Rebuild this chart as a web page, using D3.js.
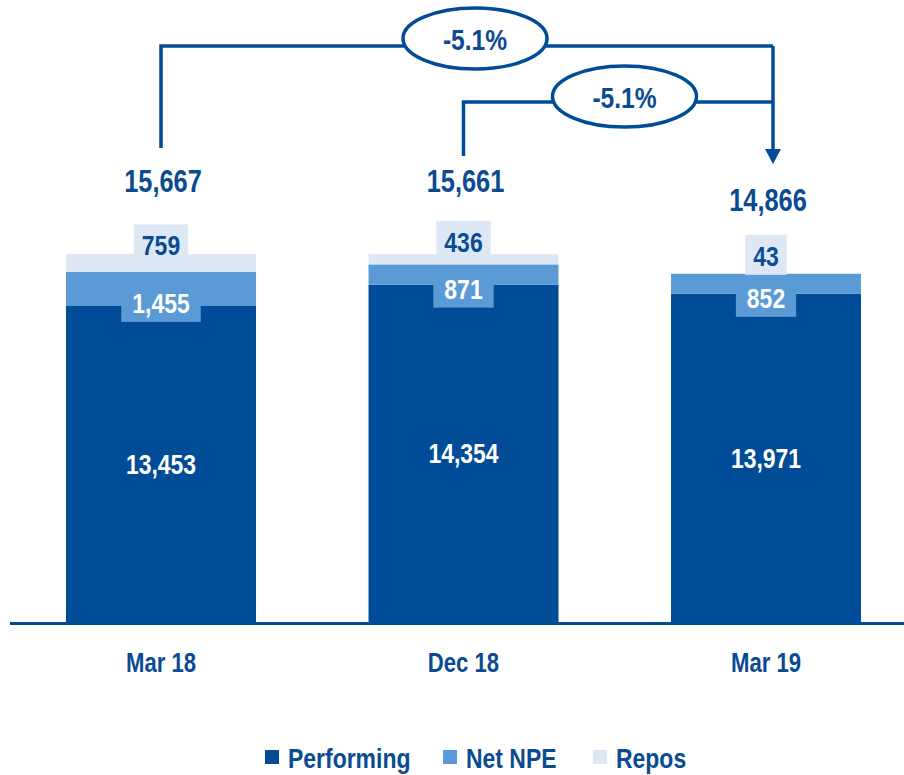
<!DOCTYPE html>
<html>
<head>
<meta charset="utf-8">
<script src="https://cdn.jsdelivr.net/npm/d3@7"></script>
<style>
  body { margin: 0; background: #fff; }
  svg { display: block; font-family: "Liberation Sans", Arial, sans-serif; font-weight: bold; }
</style>
</head>
<body>
<div id="chart"></div>
<script>
const categories = ["Mar 18", "Dec 18", "Mar 19"];
const performing = [13453, 14354, 13971];
const netNpe = [1455, 871, 852];
const repos = [759, 436, 43];
const totals = [15667, 15661, 14866];
const changeLabels = ["-5.1%", "-5.1%"];
const seriesNames = ["Performing", "Net NPE", "Repos"];

const width = 904, height = 775;
const dark = "#004C97", mid = "#5B9BD5", light = "#DEE8F4", textBlue = "#0A4B93";
const squeeze = 0.82; // narrow-font look

const rows = categories.map((c, i) => ({
  cat: c, Performing: performing[i], "Net NPE": netNpe[i], Repos: repos[i], total: totals[i]
}));

const svg = d3.select("#chart").append("svg")
  .attr("width", width)
  .attr("height", height);

// condensed text helper
function ntext(parent, tx, ty, str, size, fill, anchor) {
  return parent.append("text")
    .attr("transform", `translate(${tx},${ty}) scale(${squeeze},1)`)
    .attr("text-anchor", anchor || "middle")
    .attr("font-size", size + "px")
    .attr("fill", fill)
    .text(str);
}

const x = d3.scaleBand()
  .domain(categories)
  .range([9.75, 917.25])
  .paddingInner(0.372)
  .paddingOuter(0.186);

const y = d3.scaleLinear()
  .domain([0, 15667])
  .range([622, 254]);

const color = d3.scaleOrdinal().domain(seriesNames).range([dark, mid, light]);

const stacked = d3.stack().keys(seriesNames)(rows);

// Stacked bars
svg.append("g").selectAll("g")
  .data(stacked)
  .join("g")
  .attr("fill", d => color(d.key))
  .selectAll("rect")
  .data(d => d)
  .join("rect")
  .attr("x", d => x(d.data.cat))
  .attr("width", x.bandwidth())
  .attr("y", d => y(d[1]))
  .attr("height", d => y(d[0]) - y(d[1]));

// Baseline
svg.append("line")
  .attr("x1", 10).attr("x2", width)
  .attr("y1", y(0) + 1.5).attr("y2", y(0) + 1.5)
  .attr("stroke", dark)
  .attr("stroke-width", 3);

const cx = c => x(c) + x.bandwidth() / 2;
const fmt = d3.format(",");

// Performing labels (white, centered in segment)
const perfG = svg.append("g");
stacked[0].forEach(d => {
  ntext(perfG, cx(d.data.cat), (y(d[0]) + y(d[1])) / 2 + 10, fmt(d[1] - d[0]), 28, "#fff");
});

// Boxed labels for Net NPE and Repos
function boxedLabels(layer, offset, pad, boxColor, txtColor) {
  const g = svg.append("g");
  layer.forEach(d => {
    const bx = cx(d.data.cat);
    const base = (y(d[0]) + y(d[1])) / 2 + offset;
    const rect = g.append("rect").attr("fill", boxColor);
    const t = ntext(g, bx, base, fmt(d[1] - d[0]), 28, txtColor);
    const w = t.node().getComputedTextLength() * squeeze + pad * 2;
    rect.attr("x", bx - w / 2).attr("width", w)
      .attr("y", base - 31).attr("height", 40);
  });
}
boxedLabels(stacked[1], 24, 11, mid, "#fff");
boxedLabels(stacked[2], -7.5, 8, light, textBlue);

// Totals
const totG = svg.append("g");
rows.forEach(d => {
  ntext(totG, cx(d.cat) + 2, y(d.total) - 62, fmt(d.total), 31, textBlue);
});

// Category labels
const catG = svg.append("g");
categories.forEach(c => {
  ntext(catG, cx(c), 672, c, 27, textBlue);
});

// Change brackets
const arrowX = cx("Mar 19") + 7;
const brackets = [
  { from: "Mar 18", top: 46, bottom: 148, ex: 475, ey: 38.5, label: changeLabels[0] },
  { from: "Dec 18", top: 102, bottom: 156, ex: 624.5, ey: 96.5, label: changeLabels[1] }
];
const ann = svg.append("g");
brackets.forEach(b => {
  ann.append("path")
    .attr("d", `M${cx(b.from)},${b.bottom}V${b.top}H${arrowX}`)
    .attr("fill", "none")
    .attr("stroke", dark)
    .attr("stroke-width", 3.5);
});
ann.append("path")
  .attr("d", `M${arrowX},46V152`)
  .attr("stroke", dark)
  .attr("stroke-width", 3.5);
ann.append("path")
  .attr("d", `M${arrowX - 8},149L${arrowX + 8},149L${arrowX},164Z`)
  .attr("fill", dark);
brackets.forEach(b => {
  ann.append("ellipse")
    .attr("cx", b.ex).attr("cy", b.ey)
    .attr("rx", 72).attr("ry", 30.5)
    .attr("fill", "#fff")
    .attr("stroke", dark)
    .attr("stroke-width", 3.5);
  ntext(ann, b.ex, b.ey + 11, b.label, 30, textBlue);
});

// Legend
const legendX = [265, 443, 593];
const legend = svg.append("g");
seriesNames.forEach((s, i) => {
  legend.append("rect")
    .attr("x", legendX[i]).attr("y", 750)
    .attr("width", 14).attr("height", 14)
    .attr("fill", color(s));
  ntext(legend, legendX[i] + 23, 768, s, 28, textBlue, "start");
});
</script>
</body>
</html>
